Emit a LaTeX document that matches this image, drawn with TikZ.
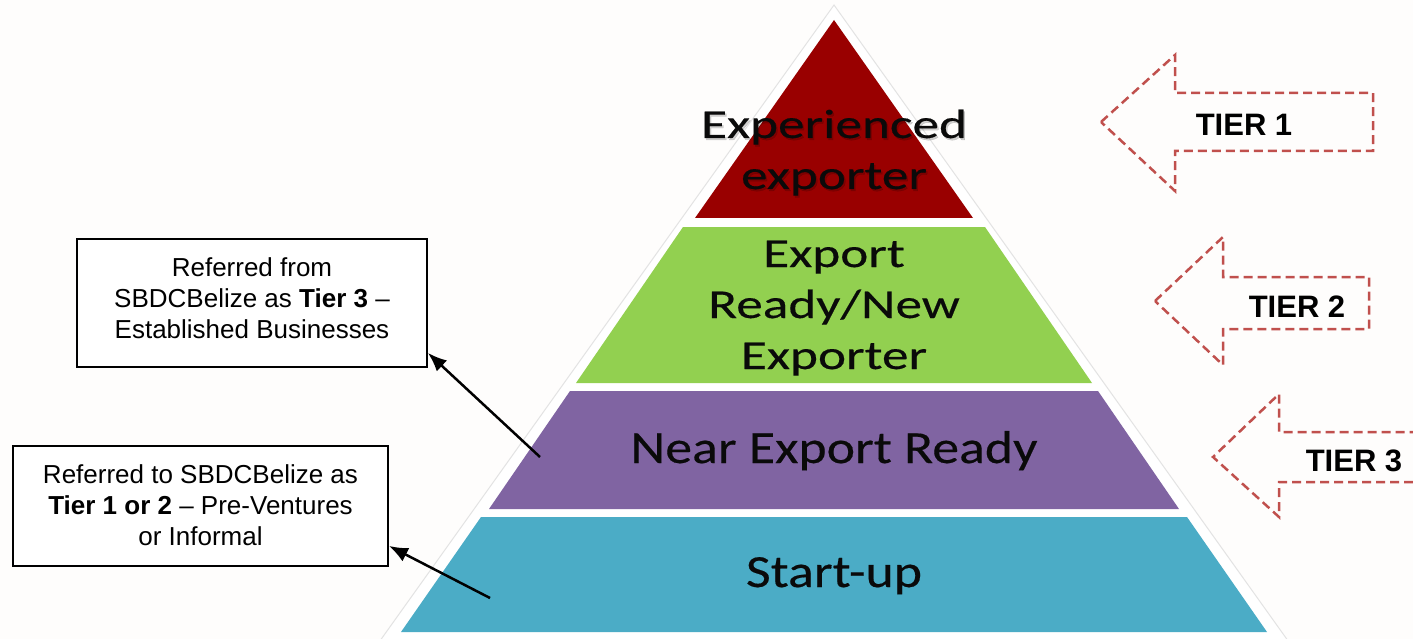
\documentclass[tikz,border=0pt]{standalone}
\usepackage{fontspec}
\setmainfont{Liberation Sans}
\newfontfamily\pyrA[FakeStretch=1.3,FakeBold=0.35]{Carlito}
\newfontfamily\pyrB[FakeStretch=1.17,FakeBold=0.35]{Carlito}
\usetikzlibrary{arrows.meta}
\definecolor{bg}{RGB}{254,253,252}
\definecolor{layA}{RGB}{153,0,0}
\definecolor{layB}{RGB}{146,208,80}
\definecolor{layC}{RGB}{128,100,162}
\definecolor{layD}{RGB}{75,172,198}
\definecolor{tierred}{RGB}{192,80,77}
\definecolor{ink}{RGB}{10,10,10}
\begin{document}
\begin{tikzpicture}[x=1pt,y=-1pt,
  tierarrow/.style={draw=tierred, line width=2.5pt, dash pattern=on 9pt off 5pt, line join=miter},
  tiertext/.style={font=\bfseries\fontsize{31}{36}\selectfont, text=black, anchor=base, inner sep=0pt},
  pyrtextA/.style={font=\pyrA\fontsize{41}{51}\selectfont, text=ink, anchor=base, inner sep=0pt},
  pyrtextB/.style={font=\pyrB\fontsize{46}{51}\selectfont, text=ink, anchor=base, inner sep=0pt},
  shadowtext/.style={text=black, opacity=0.18},
  infobox/.style={draw=black, line width=1.8pt, fill=white, inner sep=0pt},
  infotext/.style={font=\fontsize{26}{31}\selectfont, align=center, anchor=base, inner sep=0pt, text=black},
  pointer/.style={-{Latex[length=19pt,width=15pt]}, line width=2.5pt, draw=black}
]
\useasboundingbox (0,0) rectangle (1413,639);
\fill[bg] (0,0) rectangle (1413,639);

% pyramid backdrop
\draw[gray!22, line width=1pt, fill=white] (834,5) -- (1291,645) -- (377,645) -- cycle;

% layers
\fill[layA] (834,20) -- (973,218) -- (695,218) -- cycle;
\fill[layB] (683,227) -- (985,227) -- (1092,383) -- (576,383) -- cycle;
\fill[layC] (570,391) -- (1098,391) -- (1179,509) -- (489,509) -- cycle;
\fill[layD] (481,517) -- (1187,517) -- (1267,632) -- (401,632) -- cycle;

% layer labels
\node[pyrtextA, shadowtext] (expAs) at (835.5,140) {Experienced};
\node[pyrtextA, shadowtext] (expBs) at (835.5,191) {exporter};
\node[pyrtextA] (expA) at (834,138) {Experienced};
\node[pyrtextA] (expB) at (834,189) {exporter};
\node[pyrtextA] (rdyA) at (834,267) {Export};
\node[pyrtextA] (rdyB) at (834,318) {Ready/New};
\node[pyrtextA] (rdyC) at (834,369) {Exporter};
\node[pyrtextB] (near) at (834,463) {Near Export Ready};
\node[pyrtextB] (start) at (834,587) {Start-up};

% tier arrows
\draw[tierarrow] (1101,122) -- (1175,55) -- (1175,93) -- (1373,93) -- (1373,151) -- (1175,151) -- (1175,191) -- cycle;
\node[tiertext] (tier1) at (1244,135.5) {TIER 1};
\draw[tierarrow] (1155,301) -- (1223,237) -- (1223,277) -- (1369,277) -- (1369,329) -- (1223,329) -- (1223,365) -- cycle;
\node[tiertext] (tier2) at (1297,317) {TIER 2};
\draw[tierarrow] (1427,482) -- (1279,482) -- (1279,517) -- (1213,457) -- (1279,394) -- (1279,432) -- (1427,432);
\node[tiertext] (tier3) at (1354,471.5) {TIER 3};

% info boxes
\node[infobox, minimum width=350pt, minimum height=128pt] (box1) at (252,303) {};
\node[infotext] (box1t) at (252,338) {Referred from\\SBDCBelize as \textbf{Tier 3} --\\Established Businesses};
\node[infobox, minimum width=375pt, minimum height=120pt] (box2) at (200.5,506) {};
\node[infotext] (box2t) at (200.5,545) {Referred to SBDCBelize as\\\textbf{Tier 1 or 2} -- Pre-Ventures\\or Informal};

% pointers
\coordinate (p1) at (540,457);
\coordinate (p2) at (490,598);
\draw[pointer] (p1) -- ([yshift=15pt]box1.south east);
\draw[pointer] (p2) -- ([yshift=21pt]box2.south east);
\end{tikzpicture}
\end{document}
